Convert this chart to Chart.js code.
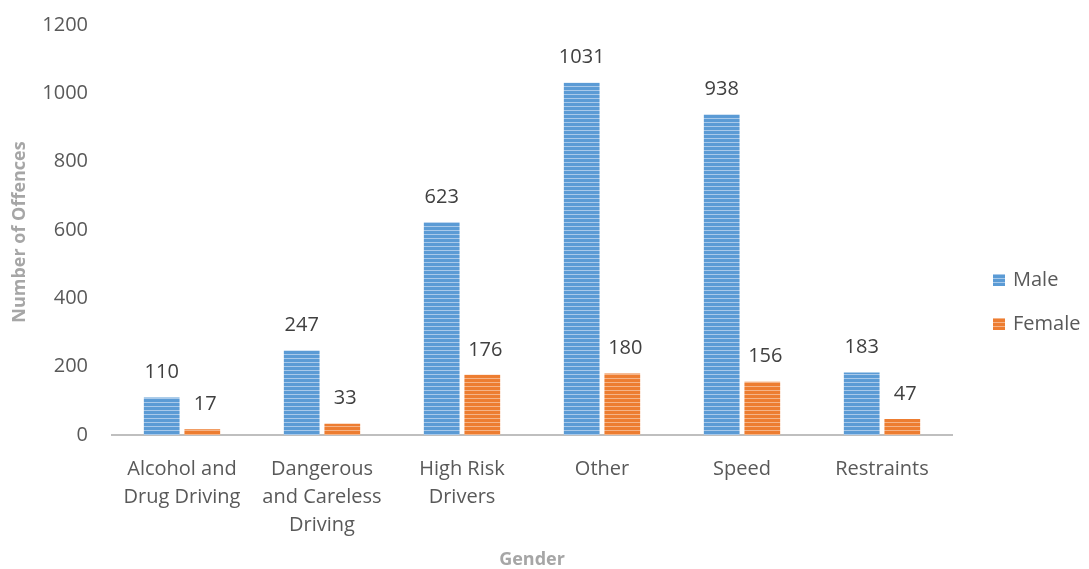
<!DOCTYPE html>
<html>
<head>
<meta charset="utf-8">
<script src="https://cdn.jsdelivr.net/npm/chart.js@4/dist/chart.umd.min.js"></script>
<style>
html,body{margin:0;padding:0;background:#fff;}
#wrap{width:1089px;height:569px;position:relative;}
</style>
</head>
<body>
<div id="wrap"><canvas id="c" width="1089" height="569"></canvas></div>
<script>
const categories = [
  ["Alcohol and", "Drug Driving"],
  ["Dangerous", "and Careless", "Driving"],
  ["High Risk", "Drivers"],
  ["Other"],
  ["Speed"],
  ["Restraints"]
];
const maleValues = [110, 247, 623, 1031, 938, 183];
const femaleValues = [17, 33, 176, 180, 156, 47];
const seriesNames = ["Male", "Female"];
const yTicks = [0, 200, 400, 600, 800, 1000, 1200];
const xTitle = "Gender";
const yTitle = "Number of Offences";

const FONT = "'Open Sans', sans-serif";

function stripePattern(base, light) {
  const p = document.createElement('canvas');
  p.width = 4; p.height = 4;
  const g = p.getContext('2d');
  g.fillStyle = base; g.fillRect(0, 0, 4, 4);
  g.fillStyle = light; g.fillRect(0, 2, 4, 1);
  return document.getElementById('c').getContext('2d').createPattern(p, 'repeat');
}
const blueFill = stripePattern('#5b9bd5', '#a8c9ea');
const orangeFill = stripePattern('#ed7d31', '#f5b488');

const overlay = {
  id: 'overlay',
  afterDatasetsDraw(chart) {
    const ctx = chart.ctx;
    ctx.save();
    ctx.font = "20px " + FONT;
    ctx.fillStyle = '#404040';
    ctx.textAlign = 'center';
    ctx.textBaseline = 'middle';
    chart.data.datasets.forEach((ds, di) => {
      const meta = chart.getDatasetMeta(di);
      meta.data.forEach((bar, i) => {
        ctx.fillText(String(ds.data[i]), bar.x + (di === 1 ? 3 : 0), bar.y - 25);
      });
    });
    ctx.restore();
  },
  afterDraw(chart) {
    const ctx = chart.ctx;
    const ca = chart.chartArea;
    ctx.save();
    ctx.font = "bold 18px " + FONT;
    ctx.fillStyle = '#a6a6a6';
    ctx.textAlign = 'center';
    ctx.textBaseline = 'middle';
    ctx.fillText(xTitle, (ca.left + ca.right) / 2, 560);
    ctx.translate(20, 232);
    ctx.rotate(-Math.PI / 2);
    ctx.fillText(yTitle, 0, 0);
    ctx.restore();
    ctx.save();
    ctx.font = "20px " + FONT;
    ctx.textAlign = 'left';
    ctx.textBaseline = 'middle';
    const ys = [280, 324];
    chart.data.datasets.forEach((ds, di) => {
      ctx.fillStyle = ds.backgroundColor;
      ctx.fillRect(993, ys[di] - 6, 12, 12);
      ctx.fillStyle = '#595959';
      ctx.fillText(ds.label, 1013, ys[di]);
    });
    ctx.restore();
  }
};

new Chart(document.getElementById('c'), {
  type: 'bar',
  data: {
    labels: categories,
    datasets: [
      { label: seriesNames[0], data: maleValues, backgroundColor: blueFill, borderWidth: 0 },
      { label: seriesNames[1], data: femaleValues, backgroundColor: orangeFill, borderWidth: 0 }
    ]
  },
  options: {
    responsive: false,
    animation: false,
    devicePixelRatio: 1,
    layout: { padding: { top: 25, right: 137, bottom: 0, left: 0 } },
    datasets: { bar: { categoryPercentage: 0.58, barPercentage: 0.88 } },
    plugins: { legend: { display: false }, tooltip: { enabled: false } },
    scales: {
      x: {
        grid: { display: false, drawTicks: false },
        border: { display: true, color: '#bfbfbf', width: 2 },
        ticks: { color: '#595959', font: { family: FONT, size: 20, lineHeight: 1.4 }, padding: 20, maxRotation: 0, autoSkip: false },
        afterFit(s) { s.height = 134; s.paddingLeft = 0; s.paddingRight = 0; }
      },
      y: {
        min: 0, max: 1200,
        afterBuildTicks(s) { s.ticks = yTicks.map(v => ({ value: v })); },
        grid: { display: false, drawTicks: false },
        border: { display: false },
        ticks: { color: '#595959', font: { family: FONT, size: 20 }, padding: 24, callback: v => String(v) },
        afterFit(s) { s.width = 112; s.paddingTop = 0; s.paddingBottom = 0; }
      }
    }
  },
  plugins: [overlay]
});
</script>
</body>
</html>
